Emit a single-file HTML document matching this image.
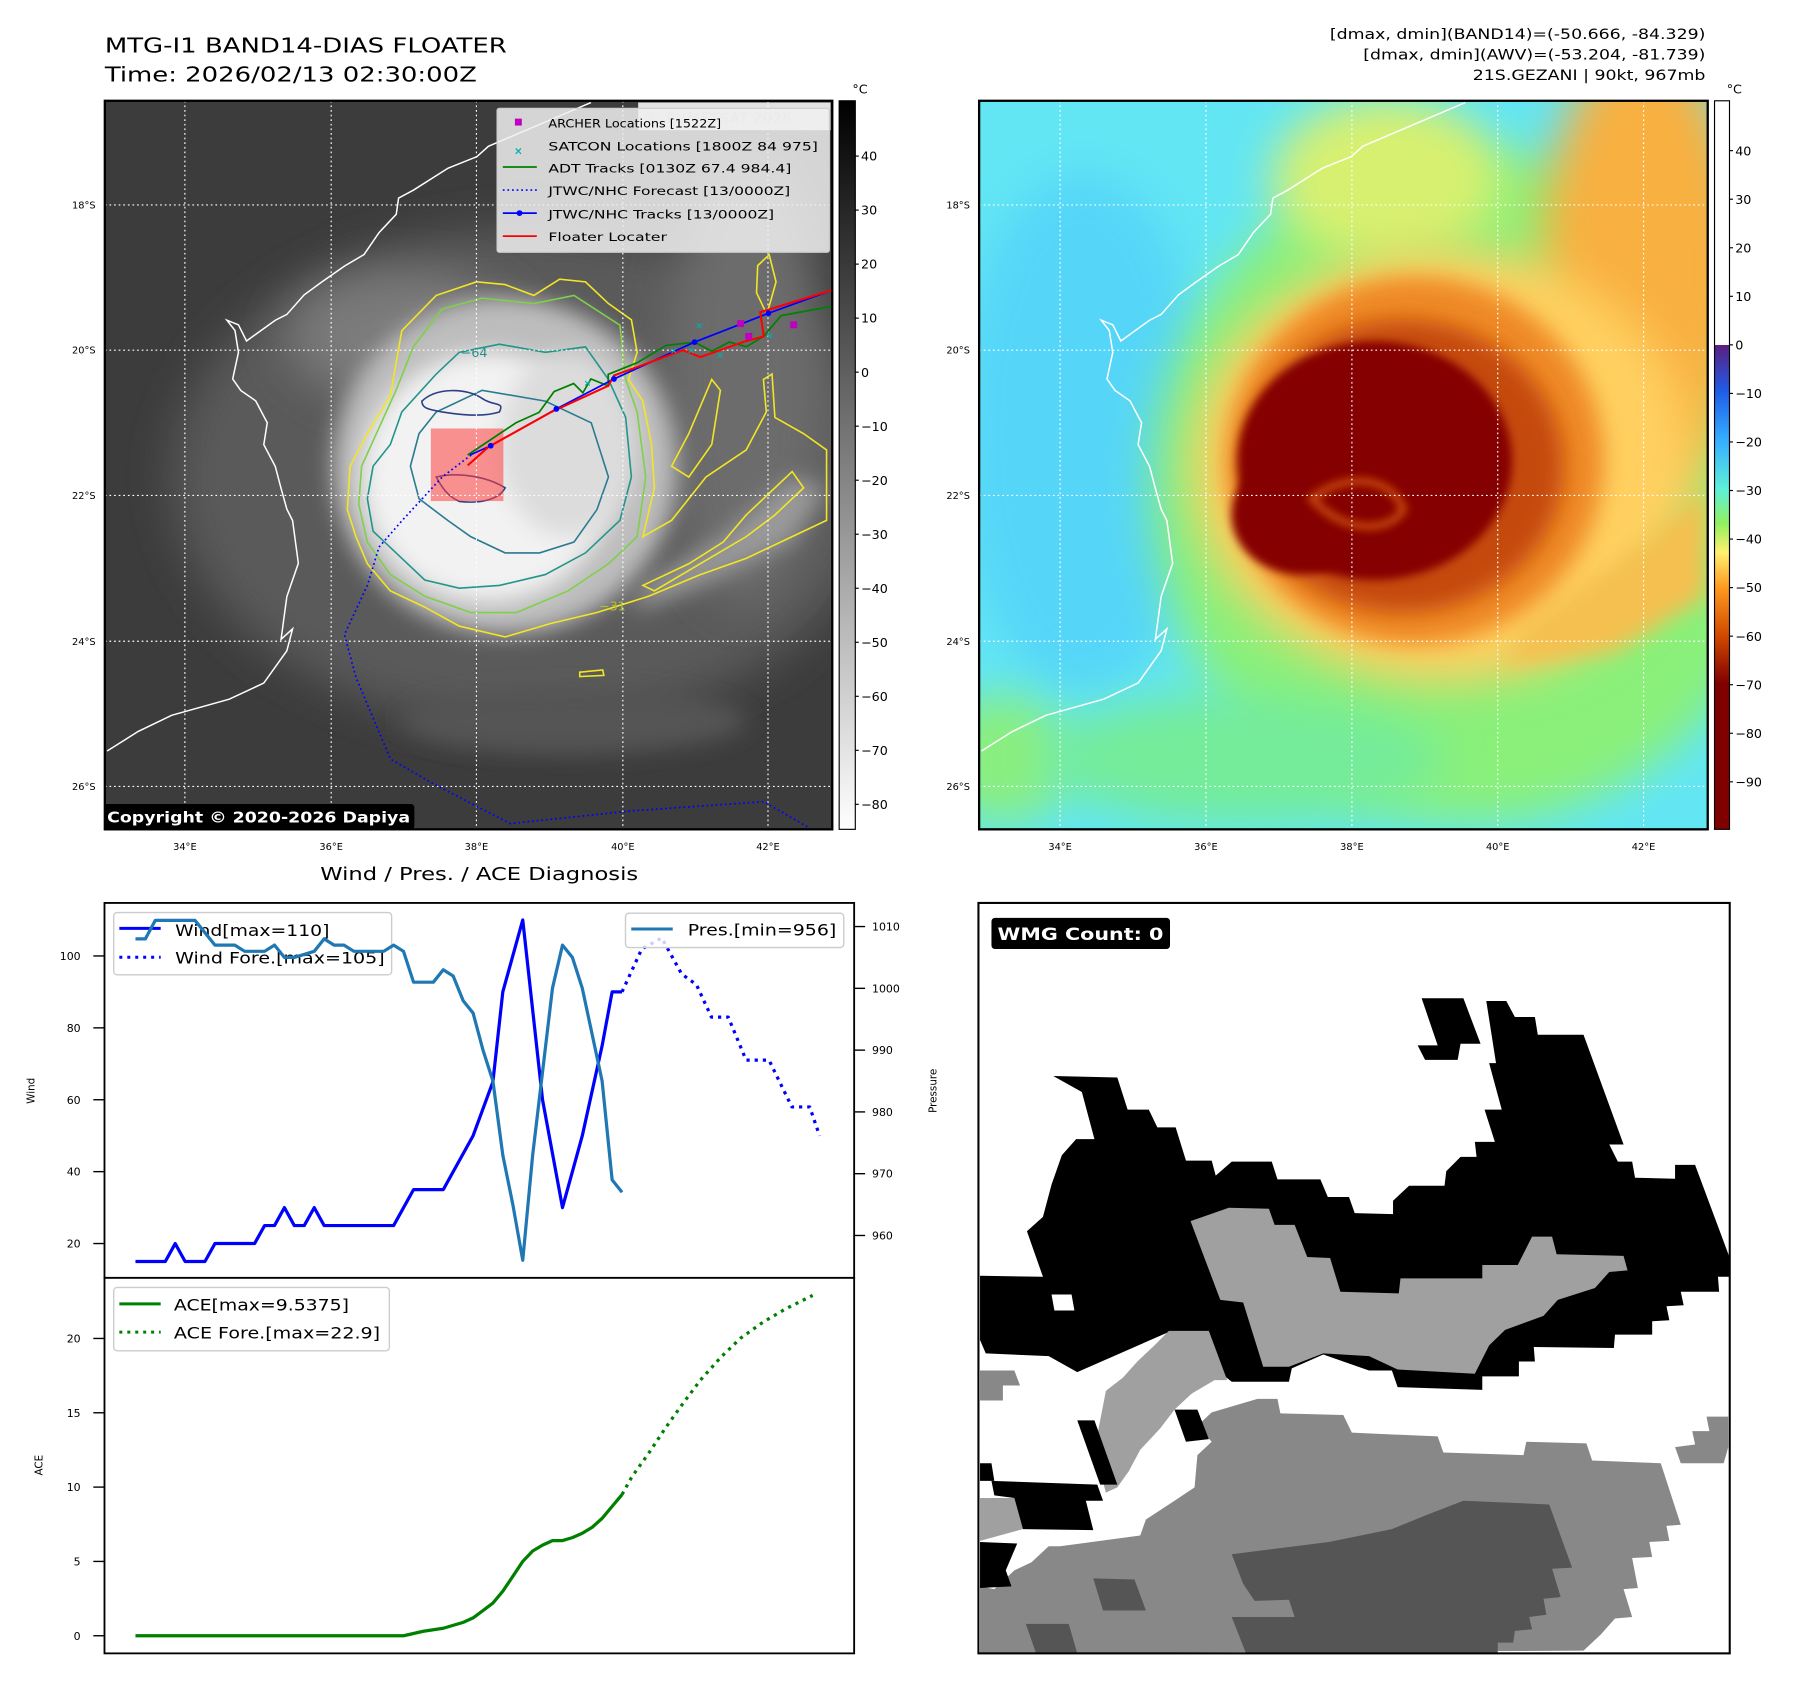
<!DOCTYPE html>
<html><head><meta charset="utf-8"><title>MTG-I1 BAND14 Floater</title>
<style>
html,body{margin:0;padding:0;background:#fff;}
svg{display:block;font-family:"DejaVu Sans","Liberation Sans",sans-serif;}
</style></head>
<body>
<svg id="fig" width="1797" height="1690" viewBox="0 0 1560 1467.2" preserveAspectRatio="none" xmlns="http://www.w3.org/2000/svg">
<defs>
 <filter id="b40" x="-50%" y="-50%" width="200%" height="200%"><feGaussianBlur stdDeviation="40"/></filter>
 <filter id="b20" x="-50%" y="-50%" width="200%" height="200%"><feGaussianBlur stdDeviation="20"/></filter>
 <filter id="b8" x="-50%" y="-50%" width="200%" height="200%"><feGaussianBlur stdDeviation="8"/></filter>
 <clipPath id="clipL"><rect x="91" y="87.5" width="631.5" height="632.5"/></clipPath>
 <clipPath id="clipR"><rect x="850" y="87.5" width="632.5" height="632.5"/></clipPath>
 <clipPath id="clipW"><rect x="849.4" y="783.9" width="652.2" height="651.5"/></clipPath>
 <linearGradient id="cbGray" x1="0" y1="0" x2="0" y2="1"><stop offset="0" stop-color="#000"/><stop offset="1" stop-color="#fff"/></linearGradient>
 <linearGradient id="cbRight" x1="0" y1="0" x2="0" y2="1">
  <stop offset="0" stop-color="#fff"/><stop offset="0.335" stop-color="#fff"/>
  <stop offset="0.3351" stop-color="#5a1e82"/><stop offset="0.4" stop-color="#1f5ee8"/>
  <stop offset="0.467" stop-color="#35b0ff"/><stop offset="0.534" stop-color="#5ff0d8"/>
  <stop offset="0.58" stop-color="#90f060"/><stop offset="0.62" stop-color="#fff070"/>
  <stop offset="0.668" stop-color="#ff9a20"/><stop offset="0.735" stop-color="#d04800"/>
  <stop offset="0.8" stop-color="#800000"/><stop offset="1" stop-color="#800000"/>
 </linearGradient>
</defs>

<!-- Titles -->
<text x="91" y="45.6" font-size="18" textLength="349" lengthAdjust="spacingAndGlyphs">MTG-I1 BAND14-DIAS FLOATER</text>
<text x="91" y="70.6" font-size="18" textLength="323" lengthAdjust="spacingAndGlyphs">Time: 2026/02/13 02:30:00Z</text>
<g font-size="12.5" text-anchor="end">
 <text x="1480.5" y="33.9" textLength="326" lengthAdjust="spacingAndGlyphs">[dmax, dmin](BAND14)=(-50.666, -84.329)</text>
 <text x="1480.5" y="51.8" textLength="297" lengthAdjust="spacingAndGlyphs">[dmax, dmin](AWV)=(-53.204, -81.739)</text>
 <text x="1480.5" y="69.6" textLength="202" lengthAdjust="spacingAndGlyphs">21S.GEZANI | 90kt, 967mb</text>
</g>

<!-- LEFT MAP -->
<g clip-path="url(#clipL)">
 <rect x="91" y="87.5" width="631.5" height="632.5" fill="#3c3c3c"/>
 <g transform="matrix(0.4983,0,0,0.4706,0,0)">
  <ellipse cx="920" cy="880" rx="620" ry="460" fill="#5a5a5a" filter="url(#b40)"/>
  <ellipse cx="700" cy="620" rx="200" ry="120" fill="#7a7a7a" filter="url(#b40)"/>
  <ellipse cx="1300" cy="700" rx="140" ry="420" fill="#6c6c6c" filter="url(#b40)"/>
  <ellipse cx="1000" cy="1330" rx="300" ry="60" fill="#555" filter="url(#b20)"/>
  <ellipse cx="880" cy="860" rx="300" ry="310" fill="#bdbdbd" filter="url(#b20)"/>
  <path d="M1120,1080 L1260,990 1380,880 1440,900 1380,1000 1200,1090 1100,1130 Z" fill="#9a9a9a" filter="url(#b20)"/>
  <ellipse cx="850" cy="880" rx="220" ry="230" fill="#f2f2f2" filter="url(#b20)"/>
  <ellipse cx="990" cy="820" rx="120" ry="170" fill="#dcdcdc" filter="url(#b20)"/>
  <g fill="none" stroke-width="1.6">
   <path vector-effect="non-scaling-stroke" stroke="#f2e624" d="M700,610 L760,545 830,520 880,525 930,545 975,515 1020,520 1060,560 1100,590 1110,650 1095,700 1120,740 1135,820 1140,900 1120,990 1170,960 1230,880 1300,830 1335,760 1330,700 1345,690 1350,770 1400,800 1440,830 1440,960 1380,990 1300,1030 1220,1060 1130,1100 1040,1130 960,1150 880,1175 800,1155 740,1120 680,1090 640,1040 620,990 605,940 610,860 640,800 680,730 Z"/>
   <path vector-effect="non-scaling-stroke" stroke="#f2e624" d="M1120,1080 L1200,1040 1260,1000 1300,950 1350,900 1380,870 1400,900 1350,950 1300,990 1220,1040 1140,1090 Z"/>
   <path vector-effect="non-scaling-stroke" stroke="#f2e624" d="M1200,800 L1240,700 1255,720 1240,820 1200,880 1170,860 Z M1320,490 L1340,470 1352,520 1336,580 1318,540 Z M1010,1240 L1050,1236 1052,1246 1010,1248 Z"/>
   <path vector-effect="non-scaling-stroke" stroke="#7fd04a" d="M720,640 L770,570 840,550 930,560 1000,545 1080,600 1090,700 1110,760 1125,880 1110,990 1060,1040 990,1090 900,1130 820,1130 740,1100 680,1060 640,1000 625,930 630,860 660,790 690,720 Z"/>
   <path vector-effect="non-scaling-stroke" stroke="#22958a" d="M760,690 L800,650 870,635 950,650 1020,640 1060,700 1090,770 1100,880 1080,960 1020,1020 950,1060 870,1080 800,1085 740,1070 700,1030 650,980 640,920 650,860 680,820 700,760 Z"/>
   <path vector-effect="non-scaling-stroke" stroke="#2a7a90" d="M760,760 L840,720 950,740 1030,780 1060,880 1040,940 1000,1000 940,1020 880,1020 820,990 780,960 730,920 715,860 730,800 Z"/>
   <path vector-effect="non-scaling-stroke" stroke="#2e3f86" d="M735,740 C760,715 810,715 840,735 C860,750 880,740 870,760 C840,770 800,765 770,760 C750,755 735,755 735,740 Z M760,880 C800,870 850,880 880,900 C870,920 840,930 800,925 C780,915 770,900 760,880 Z"/>
  </g>
 </g>
 <rect x="374" y="372" width="63" height="63" fill="#ff4040" fill-opacity="0.55"/>
 <g id="coastL">
  <polyline fill="none" stroke="#fff" stroke-width="1.3" points="513,89 424,127 414,136 389,146 359,165 346,172 344,186 329,202 316,221 299,231 279,245 264,256 249,273 239,278 214,296 207,282 197,278 204,287 207,306 202,329 209,339 222,348 232,367 229,386 239,405 244,424 249,442 254,452 259,489 249,518 244,555 254,546 249,565 229,593 199,607 149,621 120,635 93,652"/>
 </g>
 <g stroke="#fff" stroke-width="1" stroke-dasharray="1.5,2.5">
  <line x1="160.5" y1="87.5" x2="160.5" y2="720"/><line x1="287.5" y1="87.5" x2="287.5" y2="720"/><line x1="413.6" y1="87.5" x2="413.6" y2="720"/><line x1="540.7" y1="87.5" x2="540.7" y2="720"/><line x1="666.7" y1="87.5" x2="666.7" y2="720"/>
  <line x1="91" y1="177.9" x2="722.5" y2="177.9"/><line x1="91" y1="304" x2="722.5" y2="304"/><line x1="91" y1="430.1" x2="722.5" y2="430.1"/><line x1="91" y1="556.7" x2="722.5" y2="556.7"/><line x1="91" y1="682.8" x2="722.5" y2="682.8"/>
 </g>
 <polyline fill="none" stroke="#0000ff" stroke-width="1.5" stroke-dasharray="1.5,2.5" points="409,395 384,414 349,452 329,475 319,508 299,551 309,588 339,659 379,682 443,715 548,704 663,696 703,719"/>
 <polyline fill="none" stroke="#008000" stroke-width="1.5" points="406,395 448,367 468,358 481,340 498,333 506,341 513,329 528,335 528,325 553,315 578,300 603,297 618,305 633,297 648,301 663,292 678,274 722,266"/>
 <polyline fill="none" stroke="#0000ff" stroke-width="1.5" points="408,395 426,387 483,355 533,329 603,297 667,272 722,252"/>
 <polyline fill="none" stroke="#ff0000" stroke-width="1.8" points="406,404 424,388 478,358 528,335 533,326 593,304 608,310 648,296 663,292 660,271 722,252"/>
 <g fill="#0000ff"><circle cx="426" cy="387" r="2.5"/><circle cx="483" cy="355" r="2.5"/><circle cx="533" cy="329" r="2.5"/><circle cx="603" cy="297" r="2.5"/><circle cx="667" cy="272" r="2.5"/></g>
 <g fill="#c000c0"><rect x="640" y="278" width="6" height="6"/><rect x="647" y="289" width="6" height="6"/><rect x="686" y="279" width="6" height="6"/></g>
 <g fill="#00b0b0" font-size="8" font-weight="bold" text-anchor="middle"><text x="607" y="285">×</text><text x="668" y="294">×</text><text x="585" y="307">×</text><text x="600" y="307">×</text><text x="625" y="311">×</text><text x="510" y="335">×</text></g>
 <text x="400" y="310" font-size="11" fill="#2a8f8a">−64</text>
 <text x="520" y="530" font-size="11" fill="#b0c030">−31</text>
 <rect x="554" y="89" width="167" height="24" fill="#fff" fill-opacity="0.85"/>
 <text x="562" y="107" font-size="12" font-weight="bold" fill="#ccc">© EUMETSAT 2026</text>
 <g font-size="10">
  <rect x="431.5" y="94" width="288.5" height="125" rx="2" fill="#f0f0f0" fill-opacity="0.85" stroke="#ccc"/>
  <rect x="447" y="103" width="6" height="6" fill="#c000c0"/><text x="476" y="110.6" textLength="150" lengthAdjust="spacingAndGlyphs">ARCHER Locations [1522Z]</text>
  <text x="450" y="134" font-size="9" font-weight="bold" fill="#00b0b0" text-anchor="middle">×</text><text x="476" y="130.8" textLength="234" lengthAdjust="spacingAndGlyphs">SATCON Locations [1800Z 84 975]</text>
  <line x1="436.5" y1="145" x2="466" y2="145" stroke="#008000" stroke-width="1.5"/><text x="476" y="149.7" textLength="211" lengthAdjust="spacingAndGlyphs">ADT Tracks [0130Z 67.4 984.4]</text>
  <line x1="436.5" y1="165" x2="466" y2="165" stroke="#0000ff" stroke-width="1.5" stroke-dasharray="1.5,2.5"/><text x="476" y="169.4" textLength="210" lengthAdjust="spacingAndGlyphs">JTWC/NHC Forecast [13/0000Z]</text>
  <line x1="436.5" y1="185" x2="466" y2="185" stroke="#0000ff" stroke-width="1.5"/><circle cx="451" cy="185" r="2.5" fill="#0000ff"/><text x="476" y="189.6" textLength="196" lengthAdjust="spacingAndGlyphs">JTWC/NHC Tracks [13/0000Z]</text>
  <line x1="436.5" y1="205" x2="466" y2="205" stroke="#ff0000" stroke-width="1.5"/><text x="476" y="209.4" textLength="103" lengthAdjust="spacingAndGlyphs">Floater Locater</text>
 </g>
 <rect x="88.7" y="698" width="271" height="22" rx="3" fill="#000"/>
 <text x="93" y="714" font-size="13" font-weight="bold" fill="#fff" textLength="263" lengthAdjust="spacingAndGlyphs">Copyright © 2020-2026 Dapiya</text>
</g>
<rect x="91" y="87.5" width="631.5" height="632.5" fill="none" stroke="#000" stroke-width="2"/>
<g font-size="8.5">
 <g text-anchor="end"><text x="83" y="181">18°S</text><text x="83" y="307">20°S</text><text x="83" y="433">22°S</text><text x="83" y="560">24°S</text><text x="83" y="686">26°S</text></g>
 <g text-anchor="middle"><text x="160.5" y="738">34°E</text><text x="287.5" y="738">36°E</text><text x="413.6" y="738">38°E</text><text x="540.7" y="738">40°E</text><text x="666.7" y="738">42°E</text></g>
</g>
<g>
 <rect x="728.5" y="87.5" width="14" height="632.5" fill="url(#cbGray)" stroke="#000" stroke-width="1"/>
 <text x="740" y="81" font-size="11">°C</text>
 <g id="cbLTicks" font-size="11"></g>
</g>

<!-- RIGHT MAP -->
<g clip-path="url(#clipR)">
 <rect x="850" y="87.5" width="632.5" height="632.5" fill="#62e6f4"/>
 <g transform="matrix(0.4966,0,0,0.4705,781.25,0)">
  <ellipse cx="320" cy="800" rx="220" ry="480" fill="#55d6f8" filter="url(#b40)"/>
  <ellipse cx="1000" cy="900" rx="560" ry="620" fill="#8af07a" filter="url(#b40)"/>
  <ellipse cx="180" cy="1400" rx="120" ry="120" fill="#8aee80" filter="url(#b40)"/>
  <ellipse cx="600" cy="1400" rx="350" ry="120" fill="#74ec9a" filter="url(#b40)"/>
  <ellipse cx="850" cy="330" rx="200" ry="150" fill="#d8f070" filter="url(#b40)"/>
  <ellipse cx="1300" cy="500" rx="180" ry="420" fill="#f8b040" filter="url(#b40)"/>
  <ellipse cx="950" cy="860" rx="440" ry="400" fill="#ffd060" filter="url(#b40)"/>
  <path d="M1100,1150 L1300,1000 1410,900 1410,1100 1250,1200 1050,1230 Z" fill="#f5c050" filter="url(#b20)"/>
  <ellipse cx="900" cy="850" rx="330" ry="340" fill="#ef8a25" filter="url(#b20)"/>
  <ellipse cx="880" cy="860" rx="280" ry="270" fill="#c44a08" filter="url(#b20)"/>
  <ellipse cx="830" cy="850" rx="240" ry="220" fill="#850000" filter="url(#b8)"/>
  <ellipse cx="700" cy="950" rx="120" ry="110" fill="#850000" filter="url(#b8)"/>
  <path d="M720,920 C780,870 860,880 880,940 C860,980 780,990 720,920 Z" fill="none" stroke="#d05010" stroke-width="12" filter="url(#b8)"/>
 </g>
 <use href="#coastL" transform="translate(759,0)"/>
 <g stroke="#fff" stroke-width="1" stroke-dasharray="1.5,2.5">
  <line x1="920.3" y1="87.5" x2="920.3" y2="720"/><line x1="1046.9" y1="87.5" x2="1046.9" y2="720"/><line x1="1173.6" y1="87.5" x2="1173.6" y2="720"/><line x1="1300.2" y1="87.5" x2="1300.2" y2="720"/><line x1="1426.8" y1="87.5" x2="1426.8" y2="720"/>
  <line x1="850" y1="177.9" x2="1482.5" y2="177.9"/><line x1="850" y1="304" x2="1482.5" y2="304"/><line x1="850" y1="430.1" x2="1482.5" y2="430.1"/><line x1="850" y1="556.7" x2="1482.5" y2="556.7"/><line x1="850" y1="682.8" x2="1482.5" y2="682.8"/>
 </g>
</g>
<rect x="850" y="87.5" width="632.5" height="632.5" fill="none" stroke="#000" stroke-width="2"/>
<g font-size="8.5">
 <g text-anchor="end"><text x="842" y="181">18°S</text><text x="842" y="307">20°S</text><text x="842" y="433">22°S</text><text x="842" y="560">24°S</text><text x="842" y="686">26°S</text></g>
 <g text-anchor="middle"><text x="920.3" y="738">34°E</text><text x="1046.9" y="738">36°E</text><text x="1173.6" y="738">38°E</text><text x="1300.2" y="738">40°E</text><text x="1426.8" y="738">42°E</text></g>
</g>
<g>
 <rect x="1488.4" y="87.5" width="13" height="632.5" fill="url(#cbRight)" stroke="#000" stroke-width="1"/>
 <text x="1499" y="81" font-size="11">°C</text>
 <g id="cbRTicks" font-size="11"></g>
</g>

<!-- WIND / PRES / ACE -->
<text x="416" y="764" font-size="15.5" text-anchor="middle" textLength="276" lengthAdjust="spacingAndGlyphs">Wind / Pres. / ACE Diagnosis</text>
<rect x="90.7" y="783.9" width="650.8" height="325.5" fill="#fff" stroke="#000" stroke-width="1.6"/>
<rect x="90.7" y="1109.4" width="650.8" height="326" fill="#fff" stroke="#000" stroke-width="1.6"/>
<g id="chart"></g>
<text transform="translate(30,947) rotate(-90)" font-size="9" text-anchor="middle">Wind</text>
<text transform="translate(37,1272) rotate(-90)" font-size="9" text-anchor="middle">ACE</text>
<text transform="translate(813,947) rotate(-90)" font-size="9" text-anchor="middle">Pressure</text>
<g font-size="13.5">
 <rect x="98.7" y="792.3" width="241.3" height="54" rx="3" fill="#fff" fill-opacity="0.8" stroke="#ccc" stroke-width="1.2"/>
 <line x1="103.6" y1="806" x2="139.5" y2="806" stroke="#0000ff" stroke-width="2.6"/>
 <text x="152" y="812.4" textLength="134" lengthAdjust="spacingAndGlyphs">Wind[max=110]</text>
 <line x1="103.6" y1="831" x2="139.5" y2="831" stroke="#0000ff" stroke-width="2.6" stroke-dasharray="2.6,4.3"/>
 <text x="152" y="836.6" textLength="182" lengthAdjust="spacingAndGlyphs">Wind Fore.[max=105]</text>
</g>
<g id="presLayer"></g>
<g font-size="13.5">
 <rect x="543" y="792.8" width="189.5" height="29.8" rx="3" fill="#fff" fill-opacity="0.8" stroke="#ccc" stroke-width="1.2"/>
 <line x1="548" y1="806.5" x2="584" y2="806.5" stroke="#1f77b4" stroke-width="2.6"/>
 <text x="597" y="812" textLength="129" lengthAdjust="spacingAndGlyphs">Pres.[min=956]</text>
</g>
<g font-size="13.5">
 <rect x="98.7" y="1117.7" width="239.3" height="55" rx="3" fill="#fff" fill-opacity="0.8" stroke="#ccc" stroke-width="1.2"/>
 <line x1="103.6" y1="1132" x2="139.5" y2="1132" stroke="#008000" stroke-width="2.6"/>
 <text x="151" y="1137.7" textLength="152" lengthAdjust="spacingAndGlyphs">ACE[max=9.5375]</text>
 <line x1="103.6" y1="1156.5" x2="139.5" y2="1156.5" stroke="#008000" stroke-width="2.6" stroke-dasharray="2.6,4.3"/>
 <text x="151" y="1161.9" textLength="179" lengthAdjust="spacingAndGlyphs">ACE Fore.[max=22.9]</text>
</g>

<!-- WMG PANEL -->
<g clip-path="url(#clipW)">
 <rect x="849.4" y="783.9" width="652.2" height="651.5" fill="#fff"/>
 <g transform="matrix(0.4966,0,0,0.46503,781.25,737.85)">
  <polygon fill="#000" points="140,795 250,797 222,712 250,685 265,625 283,570 308,540 340,540 318,452 268,422 380,425 398,485 435,485 450,518 482,518 500,580 545,580 552,608 580,582 650,582 660,615 735,615 748,648 785,648 795,678 862,680 862,655 890,627 952,627 955,600 980,573 1008,573 1005,545 1040,545 1022,485 1052,485 1030,398 1042,398 1025,282 1060,282 1075,312 1110,312 1115,345 1195,345 1265,550 1240,550 1255,582 1280,582 1285,612 1355,614 1355,588 1390,588 1450,760 1450,797 1430,797 1432,825 1365,825 1370,850 1340,852 1345,878 1315,880 1315,905 1250,905 1248,930 1108,928 1110,955 1082,955 1082,983 1018,983 1018,1008 870,1003 860,972 820,972 740,942 685,968 680,993 580,993 470,900 310,975 260,945 150,940 140,915"/>
  <polygon fill="#000" points="912,277 985,277 1015,362 980,362 975,392 918,392 905,365 940,365"/>
  <polygon fill="#fff" points="265,830 300,830 305,860 270,860"/>
  <polygon fill="#a0a0a0" points="508,693 575,668 645,670 655,700 690,700 712,760 752,762 770,825 872,828 875,800 1018,800 1018,775 1080,775 1105,722 1140,722 1148,755 1265,758 1272,785 1240,788 1215,818 1150,840 1125,870 1058,896 1030,925 1005,978 870,970 820,945 740,940 680,965 635,965 600,845 560,840"/>
  <polygon fill="#a0a0a0" points="360,1010 390,985 415,955 445,925 470,898 540,898 572,990 550,990 510,1015 480,1045 455,1080 420,1120 400,1160 380,1190 360,1200 340,1120"/>
  <polygon fill="#888" points="545,1050 625,1025 660,1025 665,1052 775,1055 790,1088 940,1095 950,1125 1090,1130 1095,1105 1200,1108 1210,1140 1330,1145 1365,1260 1340,1262 1345,1290 1310,1292 1315,1320 1280,1322 1290,1378 1265,1380 1280,1432 1250,1435 1225,1465 1195,1495 140,1500 140,1375 165,1380 200,1345 230,1330 260,1300 280,1300 420,1280 430,1250 480,1215 515,1190 520,1130 545,1105 520,1075"/>
  <polygon fill="#888" points="140,972 200,972 210,1000 180,1000 180,1028 140,1028"/>
  <polygon fill="#888" points="1355,1115 1390,1110 1385,1085 1415,1085 1410,1058 1448,1058 1448,1115 1440,1145 1365,1145"/>
  <polygon fill="#a0a0a0" points="140,1210 200,1210 215,1268 140,1290"/>
  <polygon fill="#555" points="580,1315 750,1292 860,1268 920,1242 985,1215 1135,1222 1175,1340 1140,1342 1155,1395 1125,1398 1130,1428 1100,1432 1105,1455 1075,1458 1072,1480 1045,1480 1045,1500 605,1500 580,1432 690,1432 680,1400 620,1402 600,1370"/>
  <polygon fill="#555" points="338,1360 410,1362 430,1420 355,1420"/>
  <polygon fill="#555" points="220,1445 295,1445 310,1500 238,1500"/>
  <polygon fill="#000" points="160,1178 345,1185 355,1215 325,1215 338,1270 215,1268 200,1210 165,1205"/>
  <polygon fill="#000" points="140,1292 205,1295 185,1345 195,1375 140,1378"/>
  <polygon fill="#000" points="310,1065 340,1065 380,1185 350,1185"/>
  <polygon fill="#000" points="480,1045 520,1045 540,1100 500,1105"/>
  <polygon fill="#000" points="140,1145 160,1145 165,1178 140,1178"/>
 </g>
 <rect x="860.7" y="796.9" width="155" height="27" rx="3" fill="#000"/>
 <text x="866" y="816" font-size="15" font-weight="bold" fill="#fff" textLength="144" lengthAdjust="spacingAndGlyphs">WMG Count: 0</text>
</g>
<rect x="849.4" y="783.9" width="652.2" height="651.5" fill="none" stroke="#000" stroke-width="1.8"/>

<script>
// ---- Chart data ----
const windT = [0,3,4,5,7,8,12,13,14,15,16,17,18,19,26,28,31,34,36,37,39,41,43,45,47,48,49];
const windV = [15,15,20,15,15,20,20,25,25,30,25,25,30,25,25,35,35,50,65,90,110,60,30,50,75,90,90];
const windForeT = [49,51,53,55,56.5,58,59.7,61.5,63.8,66.1,67.9,68.9];
const windForeV = [90,102,105,95,92,83,83,71,71,58,58,50];
const presT = [0,1,2,6,8,10,11,13,14,15,16,18,19,20,21,22,25,26,27,28,30,31,32,33,34,35,36,37,38,39,40,42,43,44,45,47,48,49];
const presV = [1008,1008,1011,1011,1007,1007,1006,1006,1007,1005,1005,1006,1008,1007,1007,1006,1006,1007,1006,1001,1001,1003,1002,998,996,990,985,973,965,956,973,1000,1007,1005,1000,985,969,967];
const aceT = [0,27,29,31,33,34,35,36,37,38,39,40,41,42,43,44,45,46,47,48,49];
const aceV = [0,0,0.3,0.5,0.9,1.2,1.7,2.2,3.0,4.0,5.0,5.7,6.1,6.4,6.4,6.6,6.9,7.3,7.9,8.7,9.5];
const aceForeT = [49,50,51.7,53.4,55.1,56.9,58.9,60.9,63.2,65.5,68.2];
const aceForeV = [9.5,10.7,12.3,14,15.6,17.2,18.7,20,21.1,22,22.9];
const windTicks = [20,40,60,80,100];
const presTicks = [960,970,980,990,1000,1010];
const aceTicks = [0,5,10,15,20];
const cbLTicks = [40,30,20,10,0,-10,-20,-30,-40,-50,-60,-70,-80];
const cbRTicks = [40,30,20,10,0,-10,-20,-30,-40,-50,-60,-70,-80,-90];

// ---- Axis functions ----
const xT = t => 117.6 + t * 8.62;
const yWind = w => 1079.6 - (w - 20) * 3.121;
const yPres = p => 1072.6 - (p - 960) * 5.364;
const yAce = a => 1420.1 - a * 12.905;
const yCbL = v => 135.5 + (40 - v) * 4.69;
const yCbR = v => 130.8 + (40 - v) * 4.215;

const NS = 'http://www.w3.org/2000/svg';
const chart = document.getElementById('chart');
const presLayer = document.getElementById('presLayer');
function mk(tag, parent) { const e = document.createElementNS(NS, tag); parent.appendChild(e); return e; }
function pts(T, V, yf) { return T.map((t, i) => xT(t).toFixed(1) + ',' + yf(V[i]).toFixed(1)).join(' '); }

function line(T, V, yf, color, dash, name, parent) {
  const p = mk('polyline', parent);
  
  
  p.setAttribute('points', pts(T, V, yf));
  p.setAttribute('fill', 'none');
  p.setAttribute('stroke', color);
  p.setAttribute('stroke-width', '2.8');
  p.setAttribute('stroke-linejoin', 'round');
  if (dash) p.setAttribute('stroke-dasharray', '2.8,4.3');
}
line(windT, windV, yWind, '#0000ff', false, 'wind-line', chart);
line(windForeT, windForeV, yWind, '#0000ff', true, 'wind-forecast-line', chart);
line(presT, presV, yPres, '#1f77b4', false, 'pressure-line', presLayer);
line(aceT, aceV, yAce, '#008000', false, 'ace-line', chart);
line(aceForeT, aceForeV, yAce, '#008000', true, 'ace-forecast-line', chart);

function tick(x1, x2, y, label, lx, anchor, name, fs) {
  const l = mk('line', chart);
  
  
  l.setAttribute('x1', x1); l.setAttribute('x2', x2);
  l.setAttribute('y1', y); l.setAttribute('y2', y);
  l.setAttribute('stroke', '#000'); l.setAttribute('stroke-width', '1.2');
  const t = mk('text', chart);
  
  
  t.setAttribute('x', lx); t.setAttribute('y', y + 3.5);
  t.setAttribute('font-size', fs);
  t.setAttribute('text-anchor', anchor);
  t.textContent = label;
}
windTicks.forEach(v => tick(81, 90.7, yWind(v), v, 70, 'end', 'wind-axis', 9.5));
presTicks.forEach(v => tick(741.5, 751, yPres(v), v, 757, 'start', 'pressure-axis', 9.5));
aceTicks.forEach(v => tick(81, 90.7, yAce(v), v, 70, 'end', 'ace-axis', 9.5));

function cbTicks(id, arr, yf, x0) {
  const g = document.getElementById(id);
  arr.forEach(v => {
    const l = mk('line', g);
    
    
    l.setAttribute('x1', x0); l.setAttribute('x2', x0 + 3);
    l.setAttribute('y1', yf(v)); l.setAttribute('y2', yf(v));
    l.setAttribute('stroke', '#000');
    const t = mk('text', g);
    
    
    t.setAttribute('x', x0 + 5); t.setAttribute('y', yf(v) + 4);
    t.textContent = v < 0 ? '\u2212' + Math.abs(v) : String(v);
  });
}
cbTicks('cbLTicks', cbLTicks, yCbL, 742.5);
cbTicks('cbRTicks', cbRTicks, yCbR, 1501.4);
</script>
</svg>
</body></html>
